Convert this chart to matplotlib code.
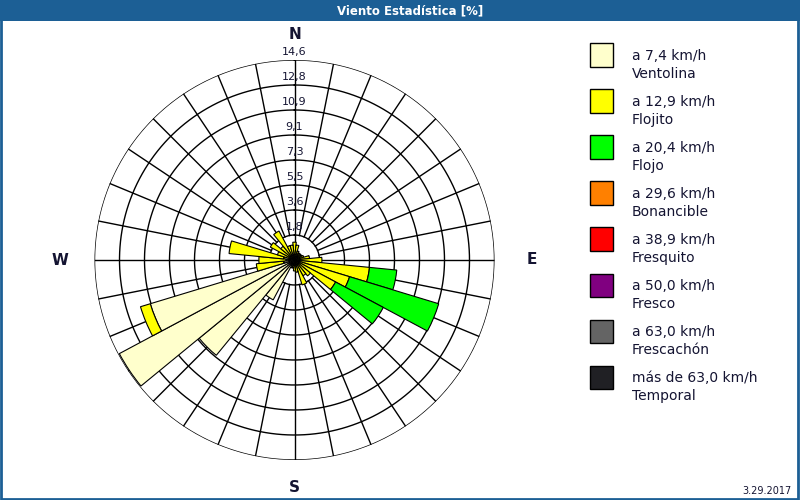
import numpy as np
import matplotlib.pyplot as plt
from matplotlib.patches import Rectangle

# 32 compass sectors, bearing in degrees clockwise from north
directions = np.arange(32) * 11.25

# frequency (%) per sector, one list per speed class (others are zero)
ventolina = [0.3, 0.3, 0.2, 0.2, 0.2, 0.2, 0.2, 0.3,
             0.3, 0.3, 0.3, 0.3, 0.3, 0.3, 0.3, 0.3,
             0.3, 0.3, 0.6, 3.3, 9.0, 14.5, 11.0, 0.8,
             0.6, 0.8, 0.3, 0.4, 0.3, 0.3, 0.3, 0.3]
flojito = [1.0, 0.8, 0.5, 0.4, 0.4, 0.4, 0.5, 0.8,
           1.7, 5.2, 3.9, 3.1, 1.2, 1.0, 1.6, 0.6,
           0.5, 0.3, 0, 0, 0, 0, 0.75, 2.0,
           2.0, 4.0, 1.0, 1.6, 1.0, 2.1, 0.8, 0.8]
flojo = [0, 0, 0, 0, 0, 0, 0, 0,
         0, 2.0, 6.8, 3.95, 0, 0, 0, 0,
         0, 0, 0, 0, 0, 0, 0, 0,
         0, 0, 0, 0, 0, 0, 0, 0]

r_max = 14.6
ring_labels = ["1,8", "3,6", "5,5", "7,3", "9,1", "10,9", "12,8", "14,6"]

legend_speeds = ["a 7,4 km/h", "a 12,9 km/h", "a 20,4 km/h", "a 29,6 km/h",
                 "a 38,9 km/h", "a 50,0 km/h", "a 63,0 km/h", "más de 63,0 km/h"]
legend_names = ["Ventolina", "Flojito", "Flojo", "Bonancible",
                "Fresquito", "Fresco", "Frescachón", "Temporal"]
legend_colors = ["#FFFFCC", "#FFFF00", "#00FF00", "#FF8000",
                 "#FF0000", "#800080", "#646464", "#202024"]

text_col = "#141432"
frame_col = "#1C5F95"

fig = plt.figure(figsize=(8, 5), dpi=100, facecolor="white")

# title bar + frame
fig.patches.append(Rectangle((0, 1 - 21 / 500), 1, 21 / 500, transform=fig.transFigure,
                             facecolor=frame_col, edgecolor="none", zorder=0))
fig.patches.append(Rectangle((0.001, 0.002), 0.997, 0.995, transform=fig.transFigure,
                             facecolor="none", edgecolor=frame_col, lw=2, zorder=0))
fig.text(410 / 800, 1 - 10.5 / 500, "Viento Estadística [%]", color="white",
         fontsize=8.5, fontweight="bold", ha="center", va="center",
         family=["Liberation Sans Narrow", "DejaVu Sans"])

ax = fig.add_axes([94.5 / 800, 40 / 500, 400 / 800, 400 / 500], projection="polar")
ax.set_theta_zero_location("N")
ax.set_theta_direction(-1)
ax.set_ylim(0, r_max)
ax.grid(False)
ax.set_xticks([])
ax.set_yticks([])
ax.spines["polar"].set_visible(False)
ax.set_facecolor("white")

# grid: rings, spokes from the first ring outwards, main axes through the centre
full = np.linspace(0, 2 * np.pi, 400)
rings = r_max * np.arange(1, 9) / 8
for r in rings:
    ax.plot(full, np.full_like(full, r), color="black", lw=1, zorder=1)
for d in directions:
    a = np.deg2rad(d)
    r0 = 0 if d % 90 == 0 else rings[0]
    ax.plot([a, a], [r0, r_max], color="black", lw=1, zorder=1)

# stacked sector bars
theta = np.deg2rad(directions)
width = np.deg2rad(11.25)
bottom = np.zeros(32)
for vals, col in zip([ventolina, flojito, flojo], legend_colors):
    vals = np.asarray(vals, dtype=float)
    mask = vals > 0
    ax.bar(theta[mask], vals[mask], width=width, bottom=bottom[mask], color=col,
           edgecolor="black", linewidth=0.8, zorder=3)
    bottom += vals

# ring value labels along the north axis
for r, lab in zip(rings, ring_labels):
    ax.text(0, r + 0.55, lab, color=text_col, fontsize=8, ha="center", va="center",
            zorder=5)

# compass letters
for ang, r, lab in [(0, 16.45, "N"), (90, 17.3, "E"), (180, 16.6, "S"), (270, 17.1, "W")]:
    ax.text(np.deg2rad(ang), r, lab, color=text_col, fontsize=11, fontweight="bold",
            ha="center", va="center", clip_on=False)

# legend
for i, (sp, nm, col) in enumerate(zip(legend_speeds, legend_names, legend_colors)):
    top = 43.5 + i * 46
    fig.patches.append(Rectangle((590 / 800, 1 - (top + 23) / 500), 23 / 800, 23 / 500,
                                 transform=fig.transFigure, facecolor=col,
                                 edgecolor="black", lw=1))
    fig.text(632 / 800, 1 - (top + 13) / 500, sp, color=text_col, fontsize=10,
             ha="left", va="center")
    fig.text(632 / 800, 1 - (top + 30.5) / 500, nm, color=text_col, fontsize=10,
             ha="left", va="center")

fig.text(792 / 800, 1 - 491 / 500, "3.29.2017", color=text_col, fontsize=7,
         ha="right", va="center")

fig.savefig("out.png", dpi=100, facecolor="white")
